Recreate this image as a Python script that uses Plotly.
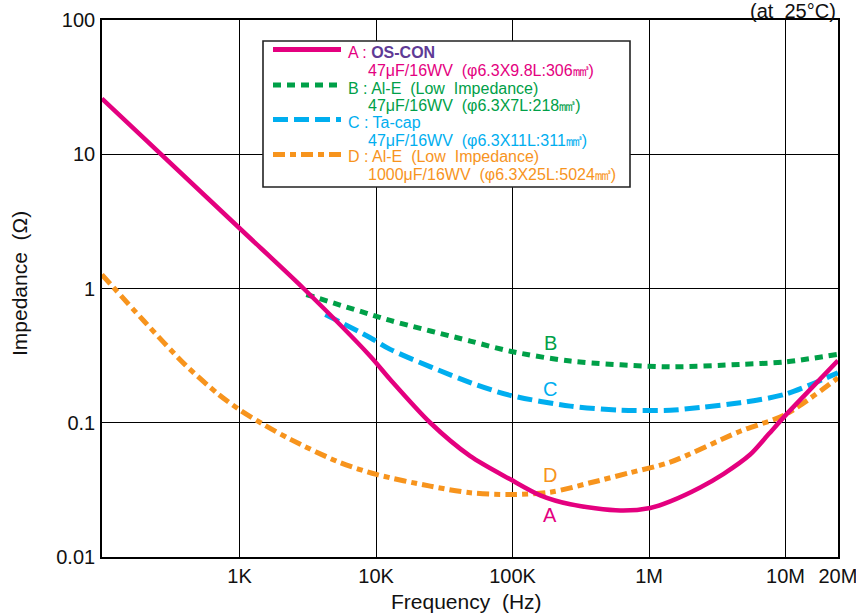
import plotly.graph_objects as go

# ---------------- data ----------------
F_END = 2.42e7  # right edge of the chart, labelled "20M"
TICK_VALS_X = [1e3, 1e4, 1e5, 1e6, 1e7, F_END]
TICK_TEXT_X = ["1K", "10K", "100K", "1M", "10M", "20M"]
TICK_VALS_Y = [0.01, 0.1, 1, 10, 100]
TICK_TEXT_Y = ["0.01", "0.1", "1", "10", "100"]

A_f = [98, 1000, 2944, 9070, 12700, 24950, 49000, 96200, 159600, 265000, 615000,
       1.02e6, 1.43e6, 2.37e6, 3.5e6, 5.51e6, 7.5e6, 9.95e6, 1.435e7, F_END]
A_z = [26.0, 2.81, 1.0, 0.313, 0.210, 0.100, 0.0564, 0.0379, 0.0288, 0.0247, 0.0222,
       0.0232, 0.0260, 0.0330, 0.0415, 0.058, 0.082, 0.113, 0.167, 0.29]

B_f = [3085, 9070, 12700, 49000, 96200, 265000, 1.43e6, 4.66e6, 9.95e6, F_END]
B_z = [0.902, 0.641, 0.578, 0.406, 0.341, 0.288, 0.261, 0.272, 0.284, 0.323]

C_f = [4250, 9070, 12700, 49000, 96200, 265000, 615000, 1.43e6, 2.37e6, 4.66e6, 9.95e6, F_END]
C_z = [0.641, 0.430, 0.352, 0.199, 0.160, 0.133, 0.124, 0.124, 0.130, 0.141, 0.163, 0.236]

D_f = [98, 200, 400, 700, 1000, 1500, 2360, 5470, 10070, 24950, 49000, 96200, 189000,
       371000, 728000, 1.43e6, 4.66e6, 9.95e6, F_END]
D_z = [1.27, 0.57, 0.27, 0.163, 0.125, 0.097, 0.0752, 0.0504, 0.0412, 0.0337, 0.0301,
       0.0292, 0.0304, 0.0357, 0.0425, 0.0509, 0.0865, 0.115, 0.216]

SERIES_KEYS = ["A", "B", "C", "D"]
SERIES_COLORS = ["#E4007F", "#00A048", "#00AEEF", "#F7941D"]
SERIES_DASH = ["solid", "8px,6px", "15px,6px", "12px,5px,6px,5px"]
SERIES_WIDTH = [4.5, 5, 5, 5]
LEGEND_LINE1 = ["A : ", "B : Al-E\u00a0 (Low\u00a0 Impedance)", "C : Ta-cap",
                "D : Al-E\u00a0 (Low\u00a0 Impedance)"]
LEGEND_NAME_A = "OS-CON"
LEGEND_LINE2 = ["47\u03bcF/16WV\u00a0 (\u03c66.3X9.8L:306\u33a3)",
                "47\u03bcF/16WV\u00a0 (\u03c66.3X7L:218\u33a3)",
                "47\u03bcF/16WV\u00a0 (\u03c66.3X11L:311\u33a3)",
                "1000\u03bcF/16WV\u00a0 (\u03c66.3X25L:5024\u33a3)"]
OSCON_COLOR = "#5F3A96"

# ---------------- geometry ----------------
W, H = 856, 613
ML, MR, MT, MB = 102, 18, 20, 56
PW, PH = W - ML - MR, H - MT - MB
FONT = "Liberation Sans, Arial, Helvetica, sans-serif"


def px(xp):
    return (xp - ML) / PW


def py(yp):
    return 1 - (yp - MT) / PH


fig = go.Figure()
order = [1, 2, 3, 0]
all_f = [A_f, B_f, C_f, D_f]
all_z = [A_z, B_z, C_z, D_z]
for i in order:
    fig.add_trace(go.Scatter(x=all_f[i], y=all_z[i], mode="lines", name=SERIES_KEYS[i],
                             line=dict(color=SERIES_COLORS[i], width=SERIES_WIDTH[i],
                                       dash=SERIES_DASH[i], shape="spline", smoothing=0.8),
                             showlegend=False, hoverinfo="skip"))

axis_common = dict(showgrid=True, gridcolor="#000000", gridwidth=1.4, showline=True,
                   linecolor="#000000", linewidth=1.6, mirror=True, ticks="", zeroline=False,
                   automargin=False, ticklabeloverflow="allow",
                   tickfont=dict(family=FONT, size=20, color="#111111"))

fig.update_xaxes(type="log", range=[1.992, 7.3845], tickvals=TICK_VALS_X, ticktext=TICK_TEXT_X,
                 **axis_common)
fig.update_yaxes(type="log", range=[-2, 2], tickvals=TICK_VALS_Y, ticktext=TICK_TEXT_Y,
                 ticklabelstandoff=1, **axis_common)

annotations = []
shapes = []

# legend box
shapes.append(dict(type="rect", xref="paper", yref="paper", x0=px(263), x1=px(630),
                   y0=py(187), y1=py(41), line=dict(color="#222222", width=1.6),
                   fillcolor="white", layer="above"))
sample_y = [49.5, 85, 119.5, 154.5]
line1_y = [52.5, 88.3, 122.3, 156.7]
line2_y = [70.7, 106, 140, 174]
for i in range(4):
    shapes.append(dict(type="line", xref="paper", yref="paper", x0=px(273), x1=px(341),
                       y0=py(sample_y[i]), y1=py(sample_y[i]),
                       line=dict(color=SERIES_COLORS[i], width=5, dash=SERIES_DASH[i]),
                       layer="above"))
    t1 = LEGEND_LINE1[i]
    if i == 0:
        t1 = t1 + f"<span style='color:{OSCON_COLOR}'><b>{LEGEND_NAME_A}</b></span>"
    annotations.append(dict(text=t1, xref="paper", yref="paper", x=px(346), y=py(line1_y[i]),
                            xanchor="left", yanchor="middle", showarrow=False,
                            font=dict(family=FONT, size=16, color=SERIES_COLORS[i])))
    annotations.append(dict(text=LEGEND_LINE2[i], xref="paper", yref="paper", x=px(366),
                            y=py(line2_y[i]), xanchor="left", yanchor="middle", showarrow=False,
                            font=dict(family=FONT, size=16, color=SERIES_COLORS[i])))

# curve labels
label_pos = {"B": 343, "C": 389, "D": 475, "A": 515}
for key, col in zip(SERIES_KEYS, SERIES_COLORS):
    annotations.append(dict(text=key, xref="paper", yref="paper", x=px(550), y=py(label_pos[key]),
                            xanchor="center", yanchor="middle", showarrow=False,
                            font=dict(family=FONT, size=20, color=col)))

# axis titles and note
annotations.append(dict(text="Frequency\u00a0 (Hz)", xref="paper", yref="paper", x=px(466),
                        y=py(601), xanchor="center", yanchor="middle", showarrow=False,
                        font=dict(family=FONT, size=21, color="#111111")))
annotations.append(dict(text="Impedance\u00a0 (\u03a9)", xref="paper", yref="paper", x=px(20),
                        y=py(284), xanchor="center", yanchor="middle", showarrow=False,
                        textangle=-90, font=dict(family=FONT, size=21, color="#111111")))
annotations.append(dict(text="(at\u00a0 25\u00b0C)", xref="paper", yref="paper", x=px(838),
                        y=py(11), xanchor="right", yanchor="middle", showarrow=False,
                        font=dict(family=FONT, size=20, color="#111111")))

fig.update_layout(width=W, height=H, margin=dict(l=ML, r=MR, t=MT, b=MB, autoexpand=False),
                  paper_bgcolor="white", plot_bgcolor="white", showlegend=False,
                  hovermode=False, annotations=annotations, shapes=shapes)

fig.write_html("out.html", config={"displayModeBar": False},
               post_script="document.body.style.margin='0';document.body.style.overflow='hidden';")
